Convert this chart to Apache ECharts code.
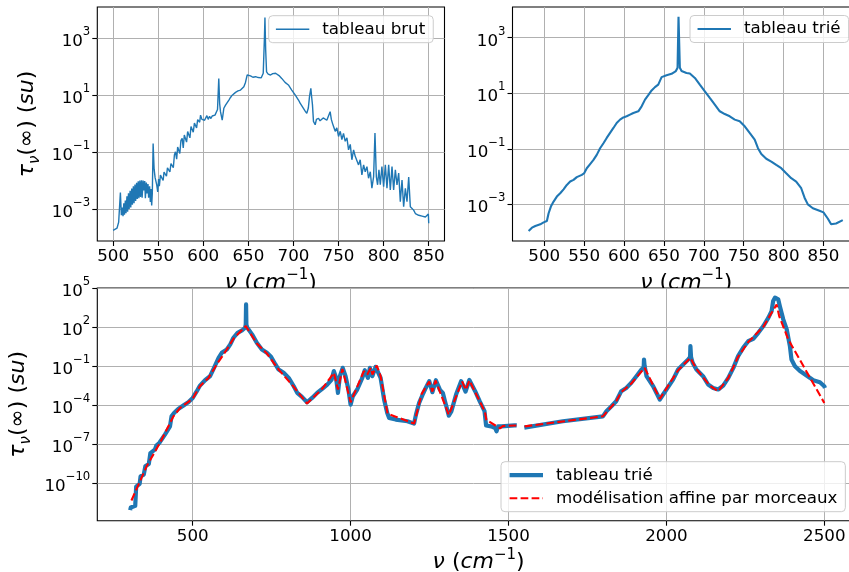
<!DOCTYPE html>
<html><head><meta charset="utf-8">
<script src="https://cdn.jsdelivr.net/npm/echarts@6/dist/echarts.min.js"></script>
<style>html,body{margin:0;padding:0;background:#fff}#c{width:849px;height:572px}</style>
</head><body><div id="c"></div>
<script>
// ---- data: [nu (cm^-1), log10(tau)] ----
const brut = [[500,-3.75],[502,-3.72],[504.4,-3.67],[506.2,-3.46],[508.1,-2.42],[509.2,-3.22],[510.3,-2.95],[511.0,-3.25],[511.9,-2.80],[512.6,-3.20],[513.6,-2.70],[514.3,-3.15],[515.4,-2.55],[516.1,-3.10],[517.1,-2.45],[517.8,-3.00],[518.9,-2.36],[519.6,-2.95],[520.7,-2.28],[521.4,-2.85],[522.5,-2.20],[523.2,-2.80],[524.3,-2.14],[525.0,-2.72],[526.1,-2.08],[526.8,-2.65],[527.9,-2.03],[528.6,-2.62],[529.7,-2.00],[530.4,-2.58],[531.5,-1.99],[532.2,-2.60],[533.3,-2.00],[534.0,-2.35],[535.1,-2.02],[535.8,-2.62],[536.9,-2.07],[537.6,-2.45],[538.7,-2.12],[539.4,-2.60],[540.5,-2.20],[541.3,-2.75],[542.0,-2.30],[542.8,-2.88],[543.5,-2.45],[544.4,-0.70],[545.5,-1.60],[546.6,-1.90],[547.5,-1.87],[548.4,-2.15],[549.5,-2.40],[550.5,-1.95],[551.3,-2.20],[552.5,-1.81],[554.4,-1.75],[555.5,-2.00],[556.5,-1.70],[558,-1.64],[559.2,-1.85],[560.3,-1.55],[561.7,-1.52],[563,-1.70],[564.2,-1.40],[565.5,-1.34],[566.8,-1.55],[568,-1.10],[569.2,-0.99],[570.5,-1.25],[571.6,-0.82],[572.8,-0.76],[574,-1.05],[575.2,-0.60],[576.6,-0.52],[577.8,-0.85],[579,-0.40],[580.3,-0.35],[581.5,-0.65],[582.7,-0.28],[583.9,-0.23],[585.2,-0.50],[586.4,-0.10],[587.7,-0.05],[588.9,-0.30],[590.2,0.02],[591.4,0.06],[592.6,-0.15],[593.8,0.14],[595,0.18],[596,0.05],[597,0.30],[598.5,0.15],[600,0.20],[601.5,0.12],[602.5,0.18],[604,0.28],[605.5,0.15],[607,0.26],[608.5,0.18],[609.9,0.27],[611.5,0.20],[613,0.30],[614.3,0.36],[615.8,0.50],[617.2,1.59],[618.2,0.70],[619.1,0.42],[621,0.12],[622.8,0.54],[624.7,0.65],[626.5,0.70],[628.4,0.83],[630.2,0.92],[632.1,1.00],[634,1.05],[635.8,1.10],[638.5,1.15],[641.3,1.18],[643,1.24],[645,1.30],[646.8,1.45],[648.7,1.71],[650.5,1.66],[652.4,1.68],[655,1.63],[658,1.65],[661,1.62],[664.3,1.61],[666.5,1.77],[667.8,3.00],[668.4,3.73],[669.2,2.60],[670.2,1.82],[672,1.74],[674.6,1.71],[677,1.76],[680.2,1.77],[684,1.69],[687,1.59],[690.7,1.45],[694.4,1.36],[698.1,1.18],[701.9,1.01],[705.6,0.83],[707.4,0.72],[709.3,0.66],[713,0.44],[714.8,0.36],[716.5,0.55],[717.8,0.95],[719.3,1.24],[720.3,0.90],[721.1,0.66],[722.2,0.08],[724.1,-0.04],[725.5,0.15],[727.8,0.19],[729.5,0.10],[731.5,0.13],[733,0.20],[735.2,0.21],[737,0.12],[738.9,0.13],[740.7,0.42],[742,0.15],[743.3,0.01],[744.4,-0.09],[746.3,-0.27],[748.1,-0.15],[750,-0.45],[751.9,-0.27],[753.7,-0.56],[755.5,-0.34],[757.4,-0.62],[759.3,-0.50],[761.1,-0.92],[763,-0.73],[764.8,-1.27],[766.7,-0.92],[768.5,-1.15],[770.4,-1.21],[772.2,-1.45],[774,-1.27],[775.9,-1.80],[777.8,-1.45],[779.6,-1.69],[781.5,-1.51],[783.3,-1.92],[785.2,-1.69],[787,-2.27],[788.9,-1.86],[790.4,-0.33],[791.9,-1.86],[793.3,-2.15],[794.8,-1.62],[796.3,-2.15],[798.1,-1.51],[800,-2.22],[801.9,-1.45],[803.7,-2.27],[805.6,-1.45],[807.4,-2.33],[809.3,-1.51],[811.1,-2.33],[813,-1.62],[814.8,-2.15],[816.7,-1.74],[818.5,-2.74],[820.4,-1.98],[822.2,-2.92],[824.1,-2.27],[825.9,-2.74],[827.8,-1.88],[829.6,-2.92],[831.5,-2.86],[833.3,-3.04],[835.2,-3.16],[837,-3.10],[838.9,-3.22],[840.7,-3.18],[842.6,-3.25],[844.4,-3.22],[846.3,-3.28],[848.1,-3.25],[849.6,-3.18],[850,-3.50]];

const trie = [[480.4,-3.96],[484.6,-3.84],[488.8,-3.78],[495,-3.72],[499.2,-3.65],[503.3,-3.60],[505.4,-3.33],[508.3,-3.08],[511.7,-2.90],[515.8,-2.72],[520,-2.60],[524.2,-2.46],[528.3,-2.30],[532.5,-2.18],[536.7,-2.12],[540.8,-2.02],[547.1,-1.94],[550,-1.88],[553.3,-1.70],[557.5,-1.55],[561.7,-1.40],[565.8,-1.22],[570,-0.98],[574.2,-0.80],[578.3,-0.61],[582.5,-0.43],[586.7,-0.25],[590.8,-0.07],[595,0.05],[599.2,0.13],[603.3,0.17],[607.5,0.23],[611.7,0.29],[617.9,0.35],[622.1,0.53],[626.3,0.77],[630.4,0.93],[634.6,1.10],[638.8,1.22],[642.9,1.31],[647.1,1.58],[653.3,1.65],[659.6,1.70],[665,1.80],[667.1,1.92],[668.3,3.75],[670,1.92],[672.1,1.80],[678.3,1.73],[682.5,1.71],[688.8,1.55],[695,1.31],[701.3,1.07],[707.5,0.83],[713.8,0.59],[720,0.35],[726.3,0.25],[732.5,0.17],[738.8,0.05],[745,-0.01],[751.3,-0.19],[757.5,-0.43],[763.8,-0.67],[767.9,-0.98],[772.1,-1.19],[778.3,-1.36],[784.6,-1.46],[790.8,-1.58],[797.1,-1.70],[803.3,-1.88],[809.6,-2.06],[815.8,-2.18],[822.1,-2.42],[826.3,-2.76],[830.4,-3.00],[836.7,-3.14],[845,-3.23],[850,-3.29],[855.4,-3.51],[859.6,-3.72],[865.8,-3.69],[874.2,-3.57]];

const trieLarge = [[302,-12.05],[304,-11.85],[318,-11.72],[321,-10.25],[332,-10.03],[335,-9.46],[345,-9.33],[350,-8.69],[361,-8.51],[366,-7.67],[380,-7.41],[385,-7.10],[394,-6.90],[398,-6.77],[412,-6.26],[417,-6.13],[428,-5.62],[433,-4.85],[441,-4.59],[454,-4.28],[470,-4.03],[486,-3.77],[500,-3.44],[513,-2.92],[523,-2.49],[539,-2.08],[555,-1.77],[566,-1.21],[582,-0.36],[592,0.03],[608,0.28],[619,0.67],[629,1.18],[642,1.56],[656,1.74],[666,1.95],[668,2.2],[669,3.74],[670,2.2],[673,1.95],[688,1.44],[703,0.79],[719,0.28],[735,0.03],[748,-0.28],[762,-0.87],[772,-1.26],[788,-1.51],[804,-1.90],[820,-2.54],[831,-3.05],[846,-3.36],[862,-3.77],[878,-3.44],[894,-3.05],[910,-2.74],[926,-2.41],[940,-2.03],[947,-1.38],[954,-1.90],[960,-3.05],[966,-1.77],[975,-1.13],[984,-1.77],[993,-2.79],[1000,-3.95],[1007,-3.31],[1021,-2.79],[1037,-1.90],[1045,-1.31],[1051,-1.21],[1055,-1.90],[1061,-1.13],[1069,-1.77],[1079,-1.05],[1085,-1.13],[1095,-1.90],[1106,-3.56],[1116,-4.59],[1122,-4.97],[1143,-5.10],[1180,-5.23],[1201,-5.41],[1207,-4.72],[1217,-3.82],[1230,-3.08],[1238,-2.67],[1249,-2.15],[1259,-3.0],[1270,-2.08],[1283,-2.82],[1292,-3.05],[1299,-3.72],[1311,-4.80],[1319,-4.47],[1334,-3.18],[1350,-2.15],[1364,-2.95],[1376,-2.06],[1394,-2.90],[1409,-3.70],[1424,-4.45],[1427,-4.5],[1429,-5.55],[1445,-5.62],[1458,-5.75],[1462,-6.0],[1467,-5.62],[1477,-5.62],[1519,-5.54],[1526,-5.55],[1538,null],[1550,-5.72],[1551,-5.60],[1672,-5.23],[1799,-4.85],[1810,-4.46],[1826,-4.08],[1841,-3.69],[1857,-2.92],[1873,-2.67],[1889,-2.28],[1905,-1.77],[1921,-1.26],[1928,-1.1],[1929,-0.49],[1931,-1.0],[1937,-1.77],[1958,-2.54],[1979,-3.56],[2000,-2.79],[2021,-2.03],[2037,-1.26],[2053,-0.87],[2069,-0.49],[2075,-0.3],[2076,0.54],[2078,-0.3],[2083,-0.74],[2095,-1.26],[2116,-1.77],[2132,-2.41],[2148,-2.67],[2164,-2.79],[2180,-2.49],[2196,-1.90],[2212,-1.13],[2227,-0.23],[2243,0.41],[2259,0.92],[2275,1.10],[2291,1.56],[2307,2.08],[2323,2.72],[2333,3.23],[2338,4.00],[2344,4.26],[2354,4.13],[2359,3.62],[2370,2.59],[2381,1.82],[2391,0.54],[2396,-0.49],[2407,-1.00],[2423,-1.38],[2439,-1.64],[2455,-1.90],[2465,-2.08],[2486,-2.23],[2500,-2.54],[2502,-2.67]];

const modele = [[306,-11.31],[354,-8.69],[396,-6.90],[439,-4.85],[460,-4.21],[500,-3.49],[523,-2.54],[550,-1.90],[576,-0.87],[608,0.28],[629,1.10],[668,2.08],[703,0.74],[735,-0.03],[772,-1.26],[820,-2.59],[862,-3.87],[910,-2.74],[947,-1.51],[960,-2.79],[974,-1.21],[1000,-3.77],[1042,-1.38],[1053,-1.64],[1064,-1.13],[1069,-1.64],[1083,-0.95],[1095,-1.77],[1117,-4.64],[1201,-5.41],[1225,-3.13],[1249,-2.18],[1259,-2.95],[1269,-2.10],[1311,-4.74],[1353,-2.18],[1365,-2.82],[1376,-2.10],[1425,-4.49],[1430,-5.13],[1473,-5.77],[1483,-5.59],[1526,-5.55],[1538,null],[1551,-5.62],[1799,-4.85],[1841,-3.69],[1857,-3.0],[1889,-2.33],[1931,-1.13],[1979,-3.51],[2037,-1.31],[2076,-0.36],[2095,-1.21],[2137,-2.49],[2164,-2.92],[2196,-1.90],[2227,-0.28],[2259,0.85],[2307,2.03],[2349,3.74],[2357,2.85],[2386,1.05],[2500,-3.82]];

const xTicksTop = [500,550,600,650,700,750,800,850];
const xTicksBottom = [500,1000,1500,2000,2500];
const yTicksTop = [-3,-1,1,3];
const yTicksBottom = [-10,-7,-4,-1,2,5];
const seriesNames = ['tableau brut','tableau trié','modélisation affine par morceaux'];

// ---- chart ----
const FF = 'DejaVu Sans';
const BLUE = '#1f77b4';
const toData = arr => arr.map(p => [p[0], p[1] === null ? '-' : p[1]]);
const expLabel = v => { const e = Math.round(v); return '{b|10}{s|' + (e < 0 ? '\u2212' : '') + Math.abs(e) + '}'; };
const tickRich = {
  b: {fontFamily: FF, fontSize: 16.7, lineHeight: 24, verticalAlign: 'bottom', color: '#000'},
  s: {fontFamily: FF, fontSize: 11.7, verticalAlign: 'top', color: '#000'}
};
const nameRich = {
  i: {fontFamily: FF, fontStyle: 'italic', fontSize: 22, lineHeight: 30, color: '#000'},
  n: {fontFamily: FF, fontSize: 22, lineHeight: 30, color: '#000'},
  s: {fontFamily: FF, fontSize: 15, verticalAlign: 'top', color: '#000'},
  u: {fontFamily: FF, fontStyle: 'italic', fontSize: 15, verticalAlign: 'bottom', color: '#000'}
};
const xName = '{i|\u03bd }{n|(}{i|cm}{s|\u22121}{n|)}';
const yName = '{i|\u03c4}{u|\u03bd}{n|(\u221e) (}{i|su}{n|)}';

function xAxisDef(g, min, max, ticks, z) {
  return {
    type: 'value', gridIndex: g, min: min, max: max, z: z, position: 'bottom',
    axisLine: {show: false, onZero: false},
    axisTick: {show: true, length: 5, lineStyle: {color: '#000', width: 1.1}, customValues: ticks},
    axisLabel: {customValues: ticks, margin: 6, fontFamily: FF, fontSize: 16.7, lineHeight: 20, color: '#000', formatter: v => String(v)},
    splitLine: {show: true, lineStyle: {color: '#b0b0b0', width: 1}},
    name: xName, nameLocation: 'middle', nameGap: 25, nameTextStyle: {rich: nameRich}
  };
}
function yAxisDef(g, min, max, ticks, z, withName) {
  const a = {
    type: 'value', gridIndex: g, min: min, max: max, z: z, position: 'left',
    axisLine: {show: false, onZero: false},
    axisTick: {show: true, length: 5, lineStyle: {color: '#000', width: 1.1}, customValues: ticks},
    axisLabel: {customValues: ticks, margin: 7, formatter: expLabel, rich: tickRich},
    splitLine: {show: true, lineStyle: {color: '#b0b0b0', width: 1}}
  };
  if (withName) { a.name = yName; a.nameLocation = 'middle'; a.nameGap = 55; a.nameTextStyle = {rich: nameRich}; }
  return a;
}
const gridBase = {show: true, borderColor: '#000', borderWidth: 1.1, backgroundColor: 'transparent', outerBoundsMode: 'none', containLabel: false};
const hiddenSymbol = {color: 'rgba(0,0,0,0)', opacity: 0, borderWidth: 0};
const legendBase = {
  backgroundColor: 'rgba(255,255,255,0.8)', borderColor: '#cccccc', borderWidth: 1, borderRadius: 4,
  itemWidth: 33.4, itemHeight: 14, itemGap: 6, padding: [5, 8, 5, 6.5], selectedMode: false,
  textStyle: {fontFamily: FF, fontSize: 16.7, lineHeight: 17, color: '#000', padding: [0, 0, 0, 8]}
};

const option = {
  animation: false,
  textStyle: {fontFamily: FF, color: '#000'},
  grid: [
    Object.assign({left: 97.3, top: 7, width: 347.2, height: 234}, gridBase),
    Object.assign({left: 512.5, top: 7, width: 347.5, height: 234}, gridBase),
    Object.assign({left: 97.3, top: 288, width: 762.7, height: 232.7, z: 2}, gridBase)
  ],
  graphic: [{type: 'rect', z: 1, silent: true, shape: {x: 96, y: 288, width: 770, height: 240}, style: {fill: '#fff'}}],
  xAxis: [
    xAxisDef(0, 482.5, 867.5, xTicksTop, 0),
    xAxisDef(1, 460.2, 895.8, xTicksTop, 0),
    xAxisDef(2, 197.9, 2613, xTicksBottom, 2)
  ],
  yAxis: [
    yAxisDef(0, -4.125, 4.10, yTicksTop, 0, true),
    yAxisDef(1, -4.32, 4.105, yTicksTop, 0, false),
    yAxisDef(2, -12.862, 5.0, yTicksBottom, 2, true)
  ],
  legend: [
    Object.assign({left: 268.7, top: 15.7, data: [{name: seriesNames[0], itemStyle: hiddenSymbol, lineStyle: {width: 1.4, color: BLUE}}]}, legendBase),
    Object.assign({left: 690, top: 15.5, data: [{name: seriesNames[1], itemStyle: hiddenSymbol, lineStyle: {width: 2.1, color: BLUE}}]}, legendBase),
    Object.assign({left: 501, top: 461.7, orient: 'vertical', align: 'left',
      data: [{name: seriesNames[1], itemStyle: hiddenSymbol, lineStyle: {width: 4.2, color: BLUE}}, {name: seriesNames[2], itemStyle: hiddenSymbol, lineStyle: {width: 2.1, color: 'red', type: [7.7, 3.3]}}]}, legendBase)
  ],
  series: [
    {type: 'line', name: seriesNames[0], xAxisIndex: 0, yAxisIndex: 0, data: toData(brut), symbol: 'none', lineStyle: {color: BLUE, width: 1.4}, itemStyle: {color: BLUE}, z: 2},
    {type: 'line', name: seriesNames[1], xAxisIndex: 1, yAxisIndex: 1, data: toData(trie), symbol: 'none', lineStyle: {color: BLUE, width: 2.1}, itemStyle: {color: BLUE}, z: 2},
    {type: 'line', name: seriesNames[1], xAxisIndex: 2, yAxisIndex: 2, data: toData(trieLarge), symbol: 'none', connectNulls: false, lineStyle: {color: BLUE, width: 4.2, join: 'round'}, itemStyle: {color: BLUE}, z: 3},
    {type: 'line', name: seriesNames[2], xAxisIndex: 2, yAxisIndex: 2, data: toData(modele), symbol: 'none', connectNulls: false, lineStyle: {color: 'red', width: 2.1, type: [7.7, 3.3]}, itemStyle: {color: 'red'}, z: 4}
  ]
};
const chart = echarts.init(document.getElementById('c'), null, {renderer: 'canvas'});
chart.setOption(option);
</script>
</body></html>
